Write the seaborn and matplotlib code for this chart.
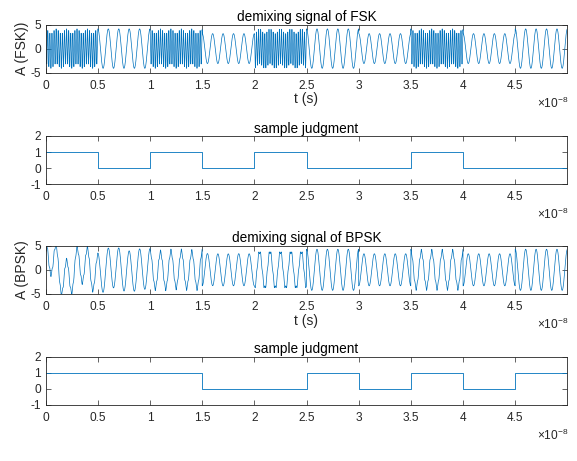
import numpy as np
import pandas as pd
import matplotlib
matplotlib.use("Agg")
import matplotlib.pyplot as plt
import seaborn as sns

# Bit streams recovered by the sample judgment stage
fsk_bits = [1, 0, 1, 0, 1, 0, 0, 1, 0, 0]
bpsk_bits = [1, 1, 1, 0, 0, 1, 0, 1, 0, 1]

# Modulation parameters of the separated sources
bit_period = 0.5e-8      # s
dt = 1e-11               # sample spacing, s
f_space = 1e9            # FSK "0" tone and BPSK carrier, Hz
f_mark = 5e9             # FSK "1" tone, Hz
amp_fsk = 3.6
amp_bpsk = 3.8
leak = 0.13              # residual cross-talk after demixing
settle_amp = 3.3         # start-up transient of the BPSK output
settle_tau = 3.5e-9
settle_freq = 0.33e9

xtick_values = [0, 0.5, 1, 1.5, 2, 2.5, 3, 3.5, 4, 4.5]
xtick_labels = ["0", "0.5", "1", "1.5", "2", "2.5", "3", "3.5", "4", "4.5"]

LINE = "#0072BD"
INK = "#262626"
TICK_FS = 8.6
LABEL_FS = 10
TITLE_FS = 9.8

sns.set_style("ticks")
plt.rcParams.update({
    "font.family": ["Liberation Sans", "DejaVu Sans"],
    "mathtext.fontset": "custom",
    "mathtext.rm": "Liberation Sans",
    "mathtext.it": "Liberation Sans",
    "xtick.direction": "in",
    "ytick.direction": "in",
    "xtick.top": True,
    "ytick.right": True,
    "xtick.major.size": 3.6,
    "ytick.major.size": 3.6,
    "xtick.major.width": 0.5,
    "ytick.major.width": 0.5,
    "xtick.color": INK,
    "ytick.color": INK,
    "xtick.labelsize": TICK_FS,
    "ytick.labelsize": TICK_FS,
    "axes.edgecolor": INK,
    "axes.linewidth": 0.6,
    "axes.labelcolor": INK,
    "text.color": INK,
})

# ---- build the time axis and waveforms from the bit streams ----
n_bits = len(fsk_bits)
t = np.arange(0, n_bits * bit_period - dt / 2, dt)
idx = np.minimum((t / bit_period + 1e-9).astype(int), n_bits - 1)
t_in_bit = t - idx * bit_period

fb = np.asarray(fsk_bits)[idx]
bb = np.asarray(bpsk_bits)[idx]

fsk = amp_fsk * np.cos(2 * np.pi * np.where(fb == 1, f_mark, f_space) * t_in_bit)
bpsk = amp_bpsk * (2 * bb - 1) * np.cos(2 * np.pi * f_space * t)
settle = settle_amp * np.exp(-t / settle_tau) * np.cos(2 * np.pi * settle_freq * (t - 0.5e-9))

demix_fsk = fsk + leak * bpsk
demix_bpsk = bpsk + leak * fsk + settle

wave = pd.DataFrame({"t": t, "fsk": demix_fsk, "bpsk": demix_bpsk})

edges = np.arange(n_bits + 1) * bit_period
judge = pd.DataFrame({
    "t": edges,
    "fsk": list(fsk_bits) + [fsk_bits[-1]],
    "bpsk": list(bpsk_bits) + [bpsk_bits[-1]],
})

# ---- figure ----
W, H = 577, 461
fig = plt.figure(figsize=(W / 100, H / 100), dpi=100)
fig.patch.set_facecolor("white")

left = 45.7 / W
width = (567.3 - 45.7) / W
height = 48.2 / H
tops = [24.5, 136.0, 245.7, 356.5]
axes = [fig.add_axes([left, 1 - (tp + 48.2) / H, width, height]) for tp in tops]

xmax = t[-1]


def style(ax, ylim, yticks):
    ax.set_xlim(0, xmax)
    ax.set_ylim(*ylim)
    ax.set_yticks(yticks)
    ax.set_yticklabels([str(v) for v in yticks])
    ax.set_xticks(np.asarray(xtick_values) * 1e-8)
    ax.set_xticklabels(xtick_labels)
    ax.tick_params(axis="x", pad=5)
    ax.tick_params(axis="y", pad=3.5)
    for s in ax.spines.values():
        s.set_visible(True)
    ax.annotate(r"$\times\mathregular{10^{-8}}$", xy=(1, 0), xycoords="axes fraction",
                xytext=(1, -22), textcoords="offset points",
                ha="right", va="center", fontsize=TICK_FS, color=INK)


signal_panels = [
    (axes[0], "fsk", "demixing signal of FSK", "A (FSK))"),
    (axes[2], "bpsk", "demixing signal of BPSK", "A (BPSK)"),
]
for ax, col, title, ylabel in signal_panels:
    sns.lineplot(data=wave, x="t", y=col, ax=ax, color=LINE, lw=0.5,
                 estimator=None, sort=False)
    style(ax, (-5, 5), [-5, 0, 5])
    ax.set_title(title, fontsize=TITLE_FS, pad=2.5, color="black")
    ax.set_xlabel("t (s)", fontsize=LABEL_FS, labelpad=0.5)
    ax.set_ylabel(ylabel, fontsize=LABEL_FS, labelpad=1)

judge_panels = [(axes[1], "fsk"), (axes[3], "bpsk")]
for ax, col in judge_panels:
    sns.lineplot(data=judge, x="t", y=col, ax=ax, color=LINE, lw=0.6,
                 drawstyle="steps-post", estimator=None, sort=False)
    style(ax, (-1, 2), [-1, 0, 1, 2])
    ax.set_title("sample judgment", fontsize=TITLE_FS, pad=2.5, color="black")
    ax.set_xlabel("")
    ax.set_ylabel("")

fig.savefig("out.png", dpi=100, facecolor="white")
